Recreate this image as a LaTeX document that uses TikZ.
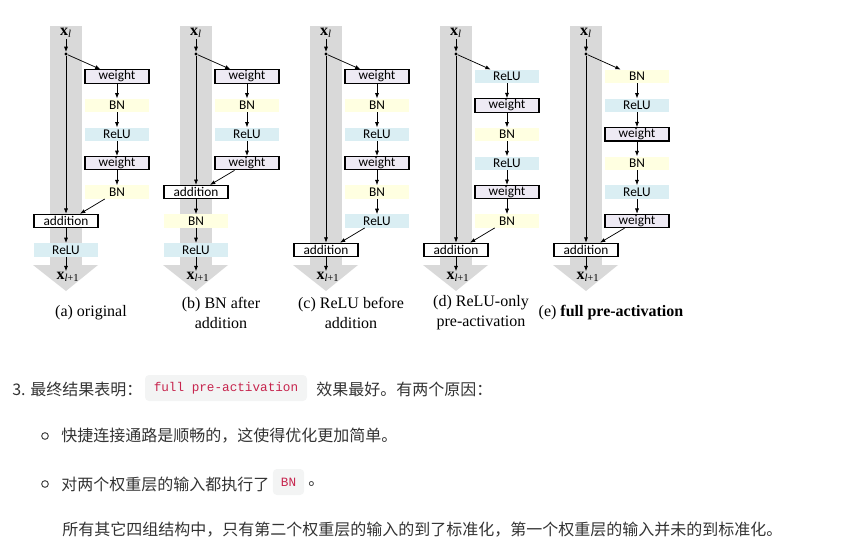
\documentclass[tikz,border=0pt]{standalone}
\usepackage{fontspec}
\setmainfont{Liberation Serif}
\newfontfamily\boxfont{Carlito}
\newfontfamily\cjk{Noto Sans CJK SC}
\newfontfamily\codefont{Liberation Mono}
\usetikzlibrary{arrows.meta}
\definecolor{colgray}{HTML}{D9D9D9}
\definecolor{bnfill}{HTML}{FFFFE1}
\definecolor{relufill}{HTML}{DAEEF3}
\definecolor{wfill}{HTML}{EEEAF4}
\definecolor{txtgray}{HTML}{333333}
\definecolor{codered}{HTML}{C7254E}
\definecolor{chipbg}{HTML}{F3F4F4}
\def\txtweight{weight}
\def\txtBN{BN}
\def\txtReLU{ReLU}
\tikzset{
  x=0.75pt, y=-0.75pt,
  basebox/.style={minimum width=48pt, minimum height=10pt, inner sep=0pt,
    font=\boxfont\fontsize{10}{10}\selectfont},
  weight box/.style={basebox, draw=black, line width=0.8pt, fill=wfill},
  BN box/.style={basebox, fill=bnfill},
  ReLU box/.style={basebox, fill=relufill},
  addbox/.style={basebox, draw=black, line width=0.8pt, fill=white},
  arr/.style={-{Latex[length=4pt,width=3.1pt]}, line width=0.55pt},
  dotn/.style={circle, fill=black, inner sep=0pt, minimum size=2.6pt},
  xlab/.style={inner sep=0.5pt, font=\fontsize{12}{12}\selectfont},
  caption/.style={align=center, font=\fontsize{12}{15}\selectfont},
  cjktext/.style={anchor=west, inner sep=0pt, text=txtgray, font=\cjk\fontsize{12}{12}\selectfont},
  chip/.style={fill=chipbg, rounded corners=3pt, inner sep=0pt, text=codered,
    font=\codefont\fontsize{9.5}{9.5}\selectfont},
  bullet/.style={circle, draw=txtgray!85, line width=0.8pt, inner sep=0pt, minimum size=5pt},
}
\newcommand\resblock[4]{%
  \fill[colgray] ({#2-16},26) rectangle ({#2+16},265);
  \fill[colgray] ({#2-33},265) -- ({#2+32},265) -- (#2,291) -- cycle;
  \node[xlab] (#1in) at (#2,33) {\textbf{x}\textsubscript{\itshape l}};
  \node[dotn] (#1dot) at (#2,54) {};
  \draw[arr] (#1in) -- (#1dot);
  \foreach \s [count=\i] in {#3} {
    \node[\s\space box] (#1b\i) at ({#2+51},{76.5+28.9*(\i-1)}) {\csname txt\s\endcsname};
    \ifnum\i>1
      \pgfmathtruncatemacro\j{\i-1}
      \draw[arr] (#1b\j) -- (#1b\i);
    \fi
  }
  \node[addbox] (#1add) at (#2,{76.5+28.9*#4}) {addition};
  \draw[arr] (#1dot) -- (#1add);
  \draw[arr] (#1dot) -- ([xshift=12pt]#1b1.north west);
  \draw[arr] ([xshift=15pt]#1b#4.south west) -- ([xshift=10.5pt]#1add.north);
  \node[xlab] (#1out) at ({#2+2},277) {\textbf{x}\textsubscript{\itshape l\upshape+1}};
}
\begin{document}
\begin{tikzpicture}
\useasboundingbox (0,0) rectangle (857,546);
% (a)
\resblock{a}{66}{weight,BN,ReLU,weight,BN}{5}
\node[ReLU box] (ap1) at (66,{76.5+28.9*6}) {ReLU};
\draw[arr] (aadd) -- (ap1);
\draw[arr] (ap1) -- (aout.north -| ap1);
% (b)
\resblock{b}{196}{weight,BN,ReLU,weight}{4}
\node[BN box] (bp1) at (196,{76.5+28.9*5}) {BN};
\node[ReLU box] (bp2) at (196,{76.5+28.9*6}) {ReLU};
\draw[arr] (badd) -- (bp1);
\draw[arr] (bp1) -- (bp2);
\draw[arr] (bp2) -- (bout.north -| bp2);
% (c)
\resblock{c}{326}{weight,BN,ReLU,weight,BN,ReLU}{6}
\draw[arr] (cadd) -- (cout.north -| cadd);
% (d)
\resblock{d}{456}{ReLU,weight,BN,ReLU,weight,BN}{6}
\draw[arr] (dadd) -- (dout.north -| dadd);
% (e)
\resblock{e}{586}{BN,ReLU,weight,BN,ReLU,weight}{6}
\draw[arr] (eadd) -- (eout.north -| eadd);
% captions
\node[caption] (capa) at (91,313) {(a) original};
\node[caption] (capb) at (221,313) {(b) BN after\\addition};
\node[caption] (capc) at (351,313) {(c) ReLU before\\addition};
\node[caption] (capd) at (481,313) {(d) ReLU-only\\pre-activation};
\node[caption] (cape) at (611,313) {(e) \textbf{full pre-activation}};
% text
\node[cjktext] (t1) at (12,389) {3. 最终结果表明：};
\node[chip, minimum width=121.5pt, minimum height=19.5pt] (c1) at (226,388) {full pre-activation};
\node[cjktext] (t1b) at (316,389) {效果最好。有两个原因：};
\node[bullet] (b1) at (45,436) {};
\node[cjktext] (t2) at (61,436) {快捷连接通路是顺畅的，这使得优化更加简单。};
\node[bullet] (b2) at (45,484) {};
\node[cjktext] (t3) at (61,484) {对两个权重层的输入都执行了};
\node[chip, minimum width=23.5pt, minimum height=19.5pt] (c2) at (288.5,482) {BN};
\node[cjktext] (t3b) at (308,484) {。};
\node[cjktext] (t4) at (62,530) {所有其它四组结构中，只有第二个权重层的输入的到了标准化，第一个权重层的输入并未的到标准化。};
\end{tikzpicture}
\end{document}
